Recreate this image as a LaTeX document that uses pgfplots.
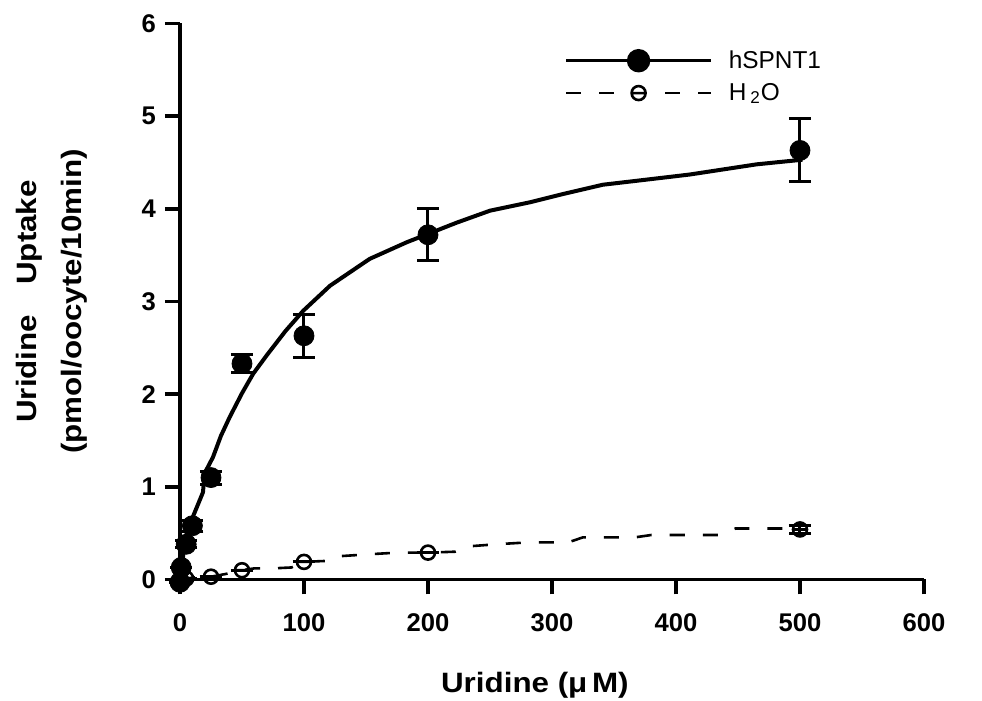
\documentclass[border=0pt]{standalone}
\usepackage{fontspec}
\setmainfont{Liberation Sans}
\newfontfamily\widefont{Liberation Sans}[FakeStretch=1.12]
\usepackage{pgfplots}
\pgfplotsset{compat=1.18}
\pgfdeclareplotmark{ominus}{%
  \pgfpathcircle{\pgfpointorigin}{\pgfplotmarksize}%
  \pgfpathmoveto{\pgfpoint{-\pgfplotmarksize}{0pt}}%
  \pgfpathlineto{\pgfpoint{\pgfplotmarksize}{0pt}}%
  \pgfusepathqstroke}
\begin{document}
\begin{tikzpicture}
\begin{axis}[
  scale only axis, width=372pt, height=278pt,
  xmin=0, xmax=600, ymin=0, ymax=6, enlargelimits=false,
  axis lines=left, axis line style={-, line width=1.7pt},
  xtick={0,100,200,300,400,500,600}, ytick={0,1,2,3,4,5,6},
  tick align=outside, major tick length=7.5pt,
  tick style={line width=1.7pt, black},
  ticklabel style={font=\bfseries\fontsize{12.8}{15}\selectfont},
  xticklabel style={yshift=-6pt},
  yticklabel style={xshift=-1pt},
  /pgf/number format/assume math mode=true,
  clip=false,
  xlabel={Uridine (μ\,M)},
  xlabel style={at={(axis description cs:0.477,0)}, anchor=base, yshift=-56.75pt,
    font=\widefont\bfseries\fontsize{14}{17}\selectfont},
  ylabel={Uridine\hspace{15pt}Uptake\\(pmol/oocyte/10min)},
  ylabel style={at={(axis description cs:-0.1237,0.5)}, anchor=south, inner sep=0pt,
    align=center, font=\widefont\bfseries\fontsize{14}{22.5}\selectfont},
  legend image code/.code={\draw[mark repeat=2, mark phase=2, #1] plot coordinates {(0pt,0pt) (36.25pt,0pt) (72.5pt,0pt)};},
  legend style={draw=none, fill=none, inner sep=0pt, outer sep=0pt,
    nodes={inner sep=0pt, anchor=west}, row sep=6pt, column sep=8pt,
    font=\fontsize{12.2}{15}\selectfont,
    at={(axis cs:310,5.71)}, anchor=north west},
  legend cell align=left,
]
\addlegendimage{black, line width=1.7pt, mark=*, mark size=5pt}
\addlegendentry{hSPNT1}
\addlegendimage{black, line width=1.3pt, dash pattern=on 7.5pt off 9pt, mark=ominus, mark size=3.5pt, mark options={solid, line width=1.3pt}}
\addlegendentry{H\,\textsubscript{2}O}

% fitted curve hSPNT1
\addplot[black, line width=2pt, line join=round, forget plot] coordinates {
(0,0) (1.6,0.14) (4,0.43) (7,0.58) (10.5,0.68) (18.5,0.94) (20,1.15) (26.6,1.32)
(33,1.55) (40,1.75) (50,2.01) (59,2.22) (70,2.42) (85,2.68) (99.4,2.90) (121,3.17)
(153,3.46) (183,3.64) (204,3.75) (223,3.85) (250,3.98) (282,4.07) (309,4.16)
(341,4.26) (373,4.31) (411,4.37) (465,4.48) (502,4.53)
};
% curve H2O
\addplot[black, line width=1.3pt, dash pattern=on 7.5pt off 9pt, forget plot] coordinates {
(0,0) (10,0.02) (25,0.03) (37,0.06) (50,0.10) (60,0.12) (75,0.12) (90,0.13)
(100,0.19) (117,0.20) (127,0.25) (150,0.27) (175,0.29) (200,0.29) (222,0.30)
(235,0.36) (255,0.38) (280,0.40) (313,0.40) (325,0.455) (367,0.455) (380,0.48)
(435,0.48) (448,0.55) (500,0.55)
};
% hSPNT1 data
\addplot[black, only marks, mark=*, mark size=5pt, forget plot,
  error bars/.cd, y dir=both, y explicit,
  error bar style={line width=1.5pt},
  error mark options={rotate=90, mark size=5.5pt, line width=1.5pt}]
  table[x=x, y=y, y error=e] {
x y e
0 -0.03 0
1 0.13 0
5 0.38 0.04
10 0.58 0.06
25 1.10 0.07
50 2.33 0.10
100 2.63 0.23
200 3.72 0.28
500 4.63 0.34
};
% H2O data
\addplot[black, only marks, mark=ominus, mark size=3.5pt, mark options={line width=1.3pt}, forget plot,
  error bars/.cd, y dir=both, y explicit,
  error bar style={line width=1.5pt},
  error mark options={rotate=90, mark size=5.5pt, line width=1.5pt}]
  table[x=x, y=y, y error=e] {
x y e
0 -0.02 0
5 0.01 0
25 0.03 0
50 0.10 0
100 0.19 0
200 0.29 0
500 0.54 0.04
};
\end{axis}
\pgfresetboundingbox
\path (-90pt,-60.75pt) rectangle (401pt,289.75pt);
\end{tikzpicture}
\end{document}
